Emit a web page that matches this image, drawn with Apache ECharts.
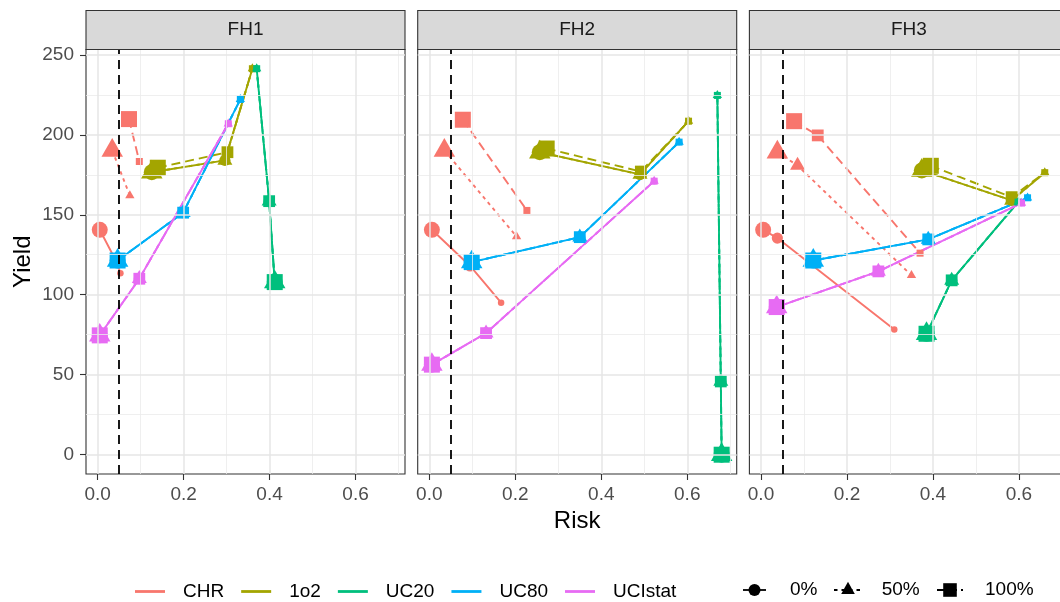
<!DOCTYPE html>
<html><head><meta charset="utf-8">
<script src="https://cdn.jsdelivr.net/npm/echarts@6/dist/echarts.min.js"></script>
<style>html,body{margin:0;padding:0;background:#fff}#c{width:1060px;height:602px}</style>
</head><body><div id="c"></div>
<script>
// ---------- data ----------
const facets = ['FH1', 'FH2', 'FH3'];
const methods = ['CHR', '1o2', 'UC20', 'UC80', 'UCIstat'];
const pcts = ['0%', '50%', '100%'];
const xTicks = [0, 0.2, 0.4, 0.6];
const xMinor = [0.1, 0.3, 0.5, 0.7];
const yTicks = [0, 50, 100, 150, 200, 250];
const yMinor = [25, 75, 125, 175, 225];
const riskThreshold = 0.05;
const xRange = [-0.027, 0.715];
const yRange = [-12.06, 253.3];

// rows: 0%, 50%, 100% ; columns: three successive points along each path
const FH1_CHR_risk = [[0.005, 0.045, 0.053], [0.034, 0.034, 0.075], [0.073, 0.073, 0.097]];
const FH1_CHR_yield = [[140.6, 120, 113.5], [190.2, 190.2, 162], [209.8, 209.8, 183.3]];
const FH1_1o2_risk = [[0.126, 0.296, 0.36], [0.126, 0.296, 0.36], [0.140, 0.302, 0.36]];
const FH1_1o2_yield = [[176.6, 184, 241.3], [176.6, 184, 241.3], [179.4, 189.1, 241.3]];
const FH1_UC20_risk = [[0.412, 0.399, 0.370], [0.412, 0.399, 0.370], [0.412, 0.399, 0.370]];
const FH1_UC20_yield = [[107.9, 158.5, 241.3], [107.9, 158.5, 241.3], [107.9, 158.5, 241.3]];
const FH1_UC80_risk = [[0.0465, 0.199, 0.332], [0.0465, 0.199, 0.332], [0.0465, 0.199, 0.332]];
const FH1_UC80_yield = [[121.4, 151.3, 222.1], [121.4, 151.3, 222.1], [121.4, 151.3, 222.1]];
const FH1_UCIstat_risk = [[0.005, 0.097, 0.304], [0.005, 0.097, 0.304], [0.005, 0.097, 0.304]];
const FH1_UCIstat_yield = [[74.6, 110, 206.9], [74.6, 110, 206.9], [74.6, 110, 206.9]];

const FH2_CHR_risk = [[0.006, 0.095, 0.167], [0.035, 0.035, 0.203], [0.078, 0.078, 0.227]];
const FH2_CHR_yield = [[140.6, 118, 95], [190.2, 190.2, 136.4], [209.4, 209.4, 152.7]];
const FH2_1o2_risk = [[0.257, 0.49, 0.603], [0.257, 0.49, 0.603], [0.273, 0.492, 0.603]];
const FH2_1o2_yield = [[189.1, 175.2, 208.5], [189.1, 175.2, 208.5], [191.4, 177, 208.5]];
const FH2_UC20_risk = [[0.680, 0.678, 0.670], [0.680, 0.678, 0.670], [0.680, 0.678, 0.670]];
const FH2_UC20_yield = [[0, 45.8, 224.6], [0, 45.8, 224.6], [0, 45.8, 224.6]];
const FH2_UC80_risk = [[0.0986, 0.350, 0.581], [0.0986, 0.350, 0.581], [0.0986, 0.350, 0.581]];
const FH2_UC80_yield = [[120.4, 136, 195.4], [120.4, 136, 195.4], [120.4, 136, 195.4]];
const FH2_UCIstat_risk = [[0.006, 0.132, 0.523], [0.006, 0.132, 0.523], [0.006, 0.132, 0.523]];
const FH2_UCIstat_yield = [[56.3, 76, 171], [56.3, 76, 171], [56.3, 76, 171]];

const FH3_CHR_risk = [[0.005, 0.038, 0.31], [0.038, 0.085, 0.35], [0.077, 0.132, 0.37]];
const FH3_CHR_yield = [[140.6, 135.4, 78.3], [189.1, 180.8, 112.1], [208.5, 199.6, 126]];
const FH3_1o2_risk = [[0.374, 0.583, 0.66], [0.374, 0.583, 0.66], [0.395, 0.583, 0.66]];
const FH3_1o2_yield = [[177.7, 159, 176.3], [177.7, 159, 176.3], [180.6, 161, 176.3]];
const FH3_UC20_risk = [[0.385, 0.4435, 0.598], [0.385, 0.4435, 0.598], [0.385, 0.4435, 0.598]];
const FH3_UC20_yield = [[75.6, 109, 157.9], [75.6, 109, 157.9], [75.6, 109, 157.9]];
const FH3_UC80_risk = [[0.1216, 0.389, 0.620], [0.1216, 0.389, 0.620], [0.1216, 0.389, 0.620]];
const FH3_UC80_yield = [[121.4, 134.6, 160.6], [121.4, 134.6, 160.6], [121.4, 134.6, 160.6]];
const FH3_UCIstat_risk = [[0.0365, 0.273, 0.606], [0.0365, 0.273, 0.606], [0.0365, 0.273, 0.606]];
const FH3_UCIstat_yield = [[92.3, 114.6, 157.3], [92.3, 114.6, 157.3], [92.3, 114.6, 157.3]];

// ---------- assembly ----------
const table = {
  FH1: { CHR: [FH1_CHR_risk, FH1_CHR_yield], '1o2': [FH1_1o2_risk, FH1_1o2_yield], UC20: [FH1_UC20_risk, FH1_UC20_yield], UC80: [FH1_UC80_risk, FH1_UC80_yield], UCIstat: [FH1_UCIstat_risk, FH1_UCIstat_yield] },
  FH2: { CHR: [FH2_CHR_risk, FH2_CHR_yield], '1o2': [FH2_1o2_risk, FH2_1o2_yield], UC20: [FH2_UC20_risk, FH2_UC20_yield], UC80: [FH2_UC80_risk, FH2_UC80_yield], UCIstat: [FH2_UCIstat_risk, FH2_UCIstat_yield] },
  FH3: { CHR: [FH3_CHR_risk, FH3_CHR_yield], '1o2': [FH3_1o2_risk, FH3_1o2_yield], UC20: [FH3_UC20_risk, FH3_UC20_yield], UC80: [FH3_UC80_risk, FH3_UC80_yield], UCIstat: [FH3_UCIstat_risk, FH3_UCIstat_yield] }
};

const FONT = '"Liberation Sans", Arial, Helvetica, sans-serif';
const colors = { CHR: '#F8766D', '1o2': '#A3A500', UC20: '#00BF7D', UC80: '#00B0F6', UCIstat: '#E76BF3' };
const dashes = { '0%': 'solid', '50%': [3.5, 4], '100%': [9, 5] };
const shapes = { '0%': 'circle', '50%': 'triangle', '100%': 'rect' };
const sizes = {
  '0%': [16, 11.2, 6.5],
  '50%': [[21.5, 18.6], [15, 13], [9.3, 8]],
  '100%': [16, 11.8, 7]
};
const gridLeft = [86, 417.7, 749.4];
const gridTop = 49.5, gridW = 319, gridH = 424.5;

const grids = [], xAxes = [], yAxes = [], series = [], graphics = [];

facets.forEach((f, i) => {
  grids.push({ left: gridLeft[i], top: gridTop, width: gridW, height: gridH, show: true,
    outerBoundsMode: 'none',
    backgroundColor: '#fff', borderColor: '#333333', borderWidth: 1.1, containLabel: false });
  xAxes.push({
    type: 'value', gridIndex: i, min: xRange[0], max: xRange[1],
    splitLine: { show: false },
    axisLine: { show: false, onZero: false },
    axisTick: { show: true, customValues: xTicks, length: 6, lineStyle: { color: '#333333', width: 1.1 } },
    axisLabel: { show: true, customValues: xTicks, formatter: v => Number(v).toFixed(1), color: '#4D4D4D', fontSize: 19, fontFamily: FONT, margin: 11 },
    name: i === 1 ? 'Risk' : '', nameLocation: 'middle', nameGap: 35,
    nameTextStyle: { fontSize: 24, color: '#000', fontFamily: FONT }
  });
  yAxes.push({
    type: 'value', gridIndex: i, min: yRange[0], max: yRange[1],
    splitLine: { show: false },
    axisLine: { show: false, onZero: false },
    axisTick: { show: i === 0, customValues: yTicks, length: 6, lineStyle: { color: '#333333', width: 1.1 } },
    axisLabel: { show: i === 0, customValues: yTicks, color: '#4D4D4D', fontSize: 19, fontFamily: FONT, margin: 12 },
    name: i === 0 ? 'Yield' : '', nameLocation: 'middle', nameGap: 51, nameRotate: 90,
    nameTextStyle: { fontSize: 24, color: '#000', fontFamily: FONT }
  });

  // panel grid lines through the axes' own scales
  series.push({
    type: 'line', xAxisIndex: i, yAxisIndex: i, data: [], silent: true, z: 1,
    markLine: {
      silent: true, symbol: 'none', animation: false, label: { show: false },
      data: [].concat(
        xMinor.map(v => ({ xAxis: v, lineStyle: { color: '#EBEBEB', width: 0.8, type: 'solid' } })),
        yMinor.map(v => ({ yAxis: v, lineStyle: { color: '#EBEBEB', width: 0.8, type: 'solid' } })),
        xTicks.map(v => ({ xAxis: v, lineStyle: { color: '#E6E6E6', width: 1.5, type: 'solid' } })),
        yTicks.map(v => ({ yAxis: v, lineStyle: { color: '#E6E6E6', width: 1.5, type: 'solid' } }))
      )
    }
  });

  // lines
  methods.forEach(m => {
    const [risk, yld] = table[f][m];
    pcts.forEach((p, k) => {
      const pts = risk[k].map((r, j) => [r, yld[k][j]]);
      series.push({
        type: 'line', name: m, xAxisIndex: i, yAxisIndex: i, data: pts,
        showSymbol: false, symbol: 'none', z: 3, silent: true,
        itemStyle: { color: colors[m] },
        lineStyle: { color: colors[m], width: 1.9, type: dashes[p] },
        emphasis: { disabled: true }
      });
    });
  });
  // points
  methods.forEach(m => {
    const [risk, yld] = table[f][m];
    pcts.forEach((p, k) => {
      const pts = risk[k].map((r, j) => [r, yld[k][j]]);
      series.push({
        type: 'scatter', name: m, xAxisIndex: i, yAxisIndex: i, data: pts,
        symbol: shapes[p],
        symbolSize: (val, params) => sizes[p][params.dataIndex],
        symbolOffset: p === '50%' ? [0, '-16.7%'] : [0, 0],
        itemStyle: { color: colors[m], opacity: 1 },
        z: 4, silent: true, emphasis: { disabled: true }
      });
    });
  });

  // reference risk threshold
  series.push({
    type: 'line', xAxisIndex: i, yAxisIndex: i, data: [], silent: true, z: 6,
    markLine: {
      silent: true, symbol: 'none', animation: false, label: { show: false },
      data: [{ xAxis: riskThreshold }],
      lineStyle: { color: '#000', width: 1.8, type: [9, 6] }
    }
  });

  // strip
  graphics.push({ type: 'rect', shape: { x: gridLeft[i], y: 10.5, width: gridW, height: 39 },
    style: { fill: '#D9D9D9', stroke: '#333333', lineWidth: 1.1 }, z: 10 });
  graphics.push({ type: 'text', x: gridLeft[i] + gridW / 2, y: 30,
    style: { text: f, fill: '#1A1A1A', font: '19px ' + FONT, textAlign: 'center', textVerticalAlign: 'middle' }, z: 11 });
});

// shape / linetype legend
const ly = 590;
graphics.push(
  { type: 'line', shape: { x1: 743, y1: ly, x2: 766, y2: ly }, style: { stroke: '#000', lineWidth: 1.8 } },
  { type: 'circle', shape: { cx: 754.5, cy: ly, r: 6 }, style: { fill: '#000' } },
  { type: 'text', x: 790, y: ly, style: { text: '0%', fill: '#000', font: '19px ' + FONT, textVerticalAlign: 'middle' } },
  { type: 'line', shape: { x1: 834, y1: ly, x2: 862, y2: ly }, style: { stroke: '#000', lineWidth: 1.8, lineDash: [3.5, 4] } },
  { type: 'polygon', shape: { points: [[848, ly - 8.2], [841.2, ly + 4.1], [854.8, ly + 4.1]] }, style: { fill: '#000' } },
  { type: 'text', x: 881.7, y: ly, style: { text: '50%', fill: '#000', font: '19px ' + FONT, textVerticalAlign: 'middle' } },
  { type: 'line', shape: { x1: 937, y1: ly, x2: 963, y2: ly }, style: { stroke: '#000', lineWidth: 1.8, lineDash: [8, 4] } },
  { type: 'rect', shape: { x: 943.2, y: ly - 6.8, width: 13.6, height: 13.6 }, style: { fill: '#000' } },
  { type: 'text', x: 985, y: ly, style: { text: '100%', fill: '#000', font: '19px ' + FONT, textVerticalAlign: 'middle' } }
);

const chart = echarts.init(document.getElementById('c'), null, { renderer: 'canvas' });
chart.setOption({
  animation: false,
  backgroundColor: '#fff',
  color: methods.map(m => colors[m]),
  textStyle: { fontFamily: FONT },
  grid: grids, xAxis: xAxes, yAxis: yAxes, series: series,
  legend: {
    data: methods.map(m => ({ name: m, icon: 'rect' })),
    left: 130, top: 577, itemWidth: 30, itemHeight: 2.8, itemGap: 17,
    selectedMode: false,
    textStyle: { fontSize: 19, color: '#000', fontFamily: FONT, padding: [0, 0, 0, 13] }
  },
  graphic: graphics
});
</script></body></html>
